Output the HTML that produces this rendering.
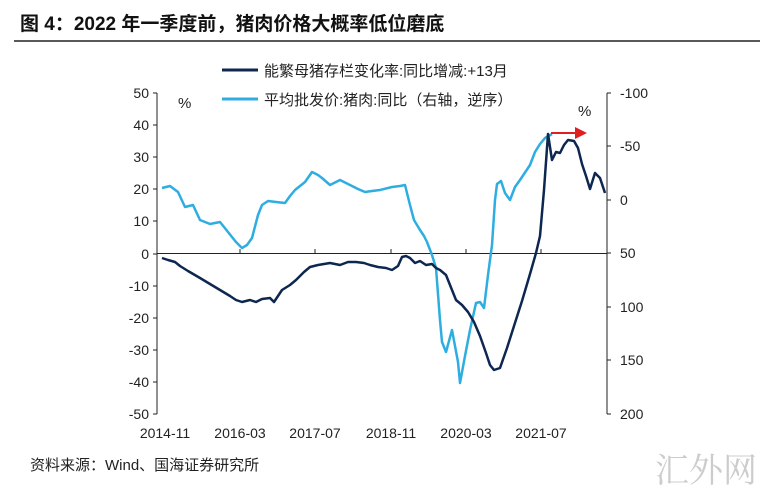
<!DOCTYPE html>
<html><head><meta charset="utf-8"><style>
body{margin:0;background:#fff;width:779px;height:496px;overflow:hidden;font-family:"Liberation Sans","Noto Sans CJK SC",sans-serif}
</style></head><body>
<svg width="779" height="496" xmlns="http://www.w3.org/2000/svg" font-family="Liberation Sans, Noto Sans CJK SC, sans-serif">
<text x="20" y="30" font-size="19" font-weight="bold" fill="#111">图 4：2022 年一季度前，猪肉价格大概率低位磨底</text>
<line x1="14" y1="41" x2="760" y2="41" stroke="#222" stroke-width="1.5"/>
<line x1="222" y1="70" x2="258" y2="70" stroke="#0d2750" stroke-width="3"/>
<text x="264" y="76" font-size="15" fill="#222">能繁母猪存栏变化率:同比增减:+13月</text>
<line x1="222" y1="99" x2="258" y2="99" stroke="#2eaee0" stroke-width="3"/>
<text x="264" y="105" font-size="15" fill="#222">平均批发价:猪肉:同比（右轴，逆序）</text>
<text x="178" y="108" font-size="15" fill="#222">%</text>
<text x="578" y="116" font-size="15" fill="#222">%</text>
<g stroke="#222" stroke-width="1" fill="none">
<line x1="157" y1="93" x2="157" y2="414"/><line x1="607" y1="93" x2="607" y2="414"/>
<line x1="157" y1="253.5" x2="607" y2="253.5"/>
</g>
<g stroke="#222" stroke-width="1">
<line x1="153" y1="93" x2="157" y2="93"/><line x1="153" y1="125" x2="157" y2="125"/><line x1="153" y1="157" x2="157" y2="157"/><line x1="153" y1="189" x2="157" y2="189"/><line x1="153" y1="221" x2="157" y2="221"/><line x1="153" y1="254" x2="157" y2="254"/><line x1="153" y1="286" x2="157" y2="286"/><line x1="153" y1="318" x2="157" y2="318"/><line x1="153" y1="350" x2="157" y2="350"/><line x1="153" y1="382" x2="157" y2="382"/><line x1="153" y1="414" x2="157" y2="414"/>
<line x1="607" y1="93" x2="611" y2="93"/><line x1="607" y1="146" x2="611" y2="146"/><line x1="607" y1="200" x2="611" y2="200"/><line x1="607" y1="253" x2="611" y2="253"/><line x1="607" y1="307" x2="611" y2="307"/><line x1="607" y1="360" x2="611" y2="360"/><line x1="607" y1="414" x2="611" y2="414"/>
<line x1="240" y1="249" x2="240" y2="254"/><line x1="315" y1="249" x2="315" y2="254"/><line x1="391" y1="249" x2="391" y2="254"/><line x1="466" y1="249" x2="466" y2="254"/><line x1="541" y1="249" x2="541" y2="254"/>
</g>
<g font-size="14" fill="#222" text-anchor="end">
<text x="149" y="98">50</text><text x="149" y="130">40</text><text x="149" y="162">30</text><text x="149" y="194">20</text><text x="149" y="226">10</text><text x="149" y="259">0</text><text x="149" y="291">-10</text><text x="149" y="323">-20</text><text x="149" y="355">-30</text><text x="149" y="387">-40</text><text x="149" y="419">-50</text>
</g>
<g font-size="14" fill="#222">
<text x="620" y="98">-100</text><text x="620" y="151">-50</text><text x="620" y="205">0</text><text x="620" y="258">50</text><text x="620" y="312">100</text><text x="620" y="365">150</text><text x="620" y="419">200</text>
</g>
<g font-size="14" fill="#222" text-anchor="middle">
<text x="165" y="438">2014-11</text><text x="240" y="438">2016-03</text><text x="315" y="438">2017-07</text><text x="391" y="438">2018-11</text><text x="466" y="438">2020-03</text><text x="541" y="438">2021-07</text>
</g>
<polyline fill="none" stroke="#2eaee0" stroke-width="2.5" stroke-linejoin="round" points="162,188 170,186 178,192 185,207 193,205 200,220 210,224 220,222 228,232 236,242 242,248 247,245 252,238 258,215 262,205 268,201 276,202 285,203 290,196 295,190 305,182 312,172 318,175 322,178 330,185 340,180 350,185 358,189 365,192 372,191 380,190 392,187 400,186 405,185 410,205 414,220 420,230 424,236 427,242 432,255 436,268 440,320 442,342 446,352 452,330 458,362 460,383 465,356 470,330 476,303 480,302 484,308 488,275 492,245 495,200 497,184 501,181 505,193 510,200 515,187 520,180 530,165 535,152 540,144 545,138 552,134"/>
<polyline fill="none" stroke="#0d2750" stroke-width="2.5" stroke-linejoin="round" points="162,258 168,260 175,262 180,266 188,271 200,278 210,284 220,290 230,296 236,300 242,302 250,300 256,302 262,299 270,298 274,302 278,296 282,290 290,285 296,280 304,272 310,267 318,265 330,263 340,265 348,262 356,262 364,263 370,265 378,267 386,268 392,270 398,266 402,257 406,256 410,258 415,263 420,261 426,265 432,264 436,268 440,270 446,275 452,290 456,300 462,305 468,312 474,322 480,336 486,353 490,365 494,370 500,368 507,348 514,326 522,301 530,274 536,253 540,236 544,190 548,134 552,160 556,152 560,153 564,145 568,140 574,141 578,148 582,164 586,176 590,189 595,173 600,178 605,193"/>
<line x1="551" y1="133" x2="576" y2="133" stroke="#e02020" stroke-width="2"/>
<polygon points="575,127 587,133 575,139" fill="#e02020"/>
<text x="30" y="470" font-size="15" fill="#222">资料来源：Wind、国海证券研究所</text>
<text x="655" y="482" font-size="34" fill="#ccc" font-family="Noto Serif CJK SC, serif">汇外网</text>
</svg>
</body></html>
